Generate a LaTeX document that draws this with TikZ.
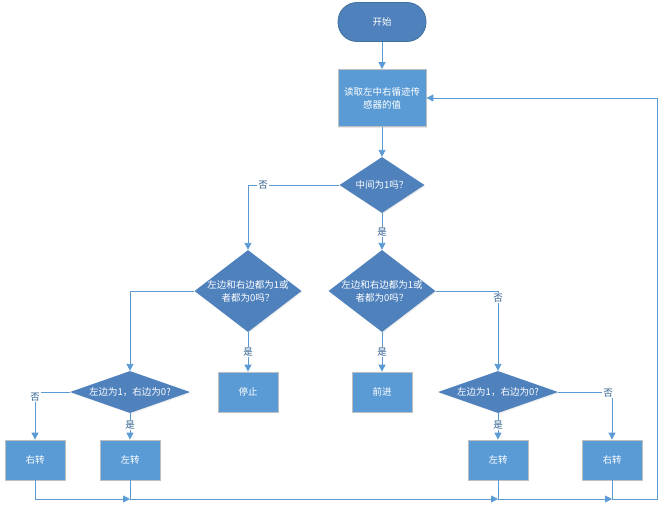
\documentclass[tikz,border=0pt]{standalone}
\usepackage{fontspec}
\newfontfamily\cjk{Noto Sans CJK SC}
\usetikzlibrary{shapes, arrows.meta, positioning, calc, shadows}

\definecolor{boxblue}{HTML}{5B9BD5}
\definecolor{deepblue}{HTML}{4F81BD}
\definecolor{edgeblue}{HTML}{41719C}
\definecolor{linkblue}{HTML}{5B9BD5}
\definecolor{tagblue}{HTML}{2F5F8F}

\tikzset{
  base/.style={font=\cjk\fontsize{9.5}{13}\selectfont, text=white, align=center, inner sep=0pt},
  startstop/.style={base, rectangle, rounded corners=19pt, minimum width=88pt, minimum height=39pt,
    fill=deepblue, draw=edgeblue, line width=0.8pt},
  process/.style={base, rectangle, fill=boxblue, draw=black!25, line width=0.8pt,
    drop shadow={opacity=0.18, shadow xshift=1.2pt, shadow yshift=-1.2pt}},
  decision/.style={base, diamond, fill=deepblue, draw=none,
    drop shadow={opacity=0.15, shadow xshift=1pt, shadow yshift=-1pt}},
  dtext/.style={base},
  arr/.style={draw=linkblue, line width=0.9pt, -{Triangle[length=7pt, width=7pt]}},
  link/.style={draw=linkblue, line width=0.9pt},
  yn/.style={font=\cjk\fontsize{9.5}{11}\selectfont, text=tagblue, fill=white, inner sep=1pt}
}

\begin{document}
\begin{tikzpicture}[x=1pt, y=-1pt]
    \useasboundingbox (0, 0) rectangle (669, 514);

    % Start and read
    \node[startstop] (start) at (382, 22) {开始};
    \node[process, minimum width=88pt, minimum height=57pt] (read) at (382, 98) {读取左中右循迹传\\感器的值};

    % First test
    \node[decision, minimum width=85pt, minimum height=56pt,
      label={[dtext]center:中间为1吗？}] (mid) at (382, 185) {};

    % Second tests
    \node[decision, minimum width=107pt, minimum height=82pt,
      label={[dtext]center:左边和右边都为1或\\者都为0吗？}] (bothl) at (248, 291) {};
    \node[decision, minimum width=107pt, minimum height=82pt,
      label={[dtext]center:左边和右边都为1或\\者都为0吗？}] (bothr) at (382, 291) {};

    % Stop and forward
    \node[process, minimum width=60pt, minimum height=40pt] (stop) at (248, 392) {停止};
    \node[process, minimum width=60pt, minimum height=40pt] (fwd) at (382, 392) {前进};

    % Third tests
    \node[decision, minimum width=120pt, minimum height=42pt,
      label={[dtext]center:左边为1，右边为0?}] (sidel) at (130, 392) {};
    \node[decision, minimum width=120pt, minimum height=42pt,
      label={[dtext]center:左边为1，右边为0?}] (sider) at (498, 392) {};

    % Turns
    \node[process, minimum width=60pt, minimum height=40pt] (rightl) at (35, 460) {右转};
    \node[process, minimum width=60pt, minimum height=40pt] (leftl) at (130, 460) {左转};
    \node[process, minimum width=60pt, minimum height=40pt] (leftr) at (498, 460) {左转};
    \node[process, minimum width=60pt, minimum height=40pt] (rightr) at (612, 460) {右转};

    % Joints on the return line
    \coordinate (j1) at (130, 499);
    \coordinate (j2) at (498, 499);
    \coordinate (j3) at (612, 499);
    \coordinate (back) at (657, 499);

    % Connectors
    \draw[arr] (start) -- (read);
    \draw[arr] (read) -- (mid);
    \draw[arr] (mid.west) -| (bothl.north);
    \draw[arr] (mid.south) -- (bothr.north);
    \draw[arr] (bothl.west) -| (sidel.north);
    \draw[arr] (bothl.south) -- (stop.north);
    \draw[arr] (bothr.south) -- (fwd.north);
    \draw[arr] (bothr.east) -| (sider.north);
    \draw[arr] (sidel.west) -| (rightl.north);
    \draw[arr] (sidel.south) -- (leftl.north);
    \draw[arr] (sider.south) -- (leftr.north);
    \draw[arr] (sider.east) -| (rightr.north);

    % Return line
    \draw[arr] (rightl.south) |- (j1);
    \draw[link] (leftl.south) -- (j1);
    \draw[arr] (j1) -- (j2);
    \draw[link] (leftr.south) -- (j2);
    \draw[arr] (j2) -- (j3);
    \draw[link] (rightr.south) -- (j3);
    \draw[arr] (j3) -- (back) |- (read.east);

    % Yes / no tags
    \node[yn] (no1) at (263, 185) {否};
    \node[yn] (yes1) at (382, 232) {是};
    \node[yn] (yes2) at (248, 352) {是};
    \node[yn] (yes3) at (382, 352) {是};
    \node[yn] (no2) at (498, 298) {否};
    \node[yn] (no3) at (35, 397) {否};
    \node[yn] (yes4) at (130, 425) {是};
    \node[yn] (yes5) at (498, 425) {是};
    \node[yn] (no4) at (608, 393) {否};
\end{tikzpicture}
\end{document}
